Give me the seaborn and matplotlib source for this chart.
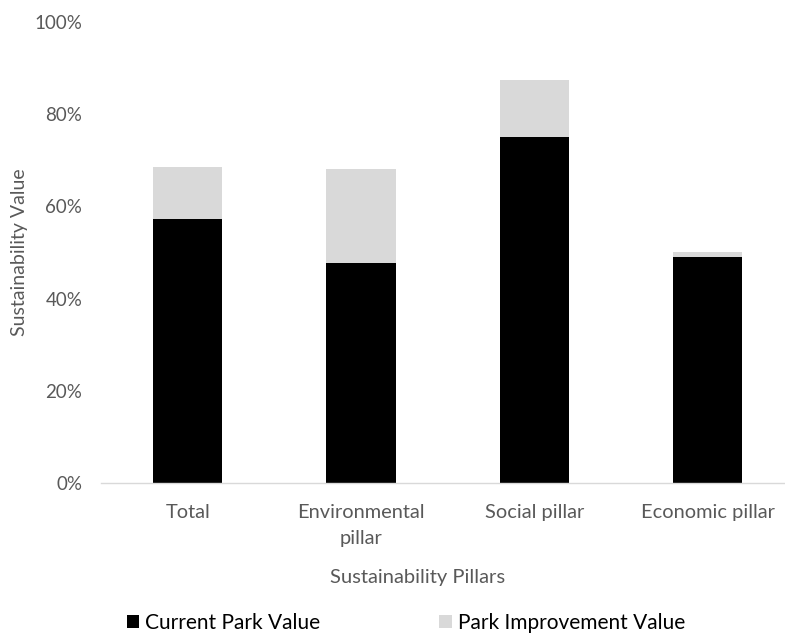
import matplotlib
matplotlib.use("Agg")
import matplotlib.pyplot as plt
import seaborn as sns
import pandas as pd
from matplotlib.patches import Patch
from matplotlib.ticker import PercentFormatter

categories = ["Total", "Environmental\npillar", "Social pillar", "Economic pillar"]
current_value = [57.2, 47.7, 75.0, 49.1]
improvement_value = [11.3, 20.4, 12.4, 0.9]

sns.set_theme(style="white")
plt.rcParams["font.family"] = ["Lato", "DejaVu Sans"]

df = pd.DataFrame({
    "pillar": categories,
    "current": current_value,
    "total": [c + i for c, i in zip(current_value, improvement_value)],
})

fig = plt.figure(figsize=(7.85, 6.33), dpi=100)
ax = fig.add_axes([101 / 785, 1 - 483 / 633, 693.5 / 785, (483 - 22) / 633])

sns.barplot(data=df, x="pillar", y="total", color="#d9d9d9", width=0.40,
            saturation=1, ax=ax, edgecolor="none")
sns.barplot(data=df, x="pillar", y="current", color="#000000", width=0.40,
            saturation=1, ax=ax, edgecolor="none")

ax.set_ylim(0, 100)
ax.set_xlim(-0.5, 3.5)
ax.set_yticks([0, 20, 40, 60, 80, 100])
ax.yaxis.set_major_formatter(PercentFormatter(decimals=0))
for s in ["top", "right", "left"]:
    ax.spines[s].set_visible(False)
ax.spines["bottom"].set_color("#d9d9d9")
ax.spines["bottom"].set_linewidth(1.0)
ax.spines["bottom"].set_clip_on(False)

text_color = "#595959"
ax.tick_params(axis="y", length=0, pad=13.5, labelsize=13.5, labelcolor=text_color)
ax.tick_params(axis="x", length=0, pad=15, labelsize=14.4, labelcolor=text_color)
for lbl in ax.get_xticklabels():
    lbl.set_linespacing(1.62)

ax.set_xlabel("")
ax.set_ylabel("")
fig.text(418 / 785, 1 - 577 / 633, "Sustainability Pillars", ha="center", va="center",
         fontsize=14.5, color=text_color)
fig.text(20 / 785, 1 - 252 / 633, "Sustainability Value", ha="center", va="center",
         rotation=90, fontsize=14, color=text_color)

handles = [Patch(facecolor="#000000", edgecolor="none"),
           Patch(facecolor="#d9d9d9", edgecolor="none")]
fig.legend(handles, ["Current Park Value", "Park Improvement Value"],
           loc="center", bbox_to_anchor=(406 / 785, 1 - 623 / 633), ncol=2,
           frameon=False, fontsize=15, handlelength=0.6, handleheight=0.6,
           handletextpad=0.3, columnspacing=5.7, labelcolor="#000000",
           borderpad=0, borderaxespad=0)

fig.savefig("out.png", dpi=100)
